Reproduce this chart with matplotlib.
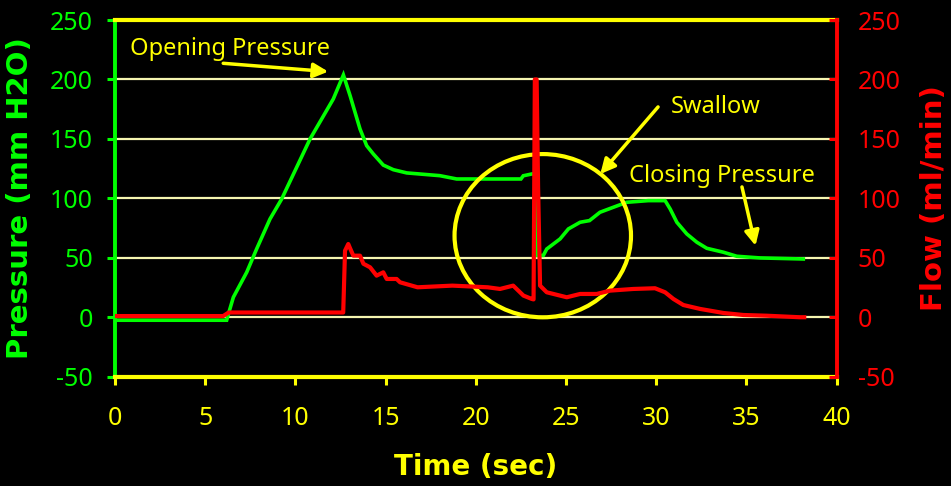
import matplotlib
matplotlib.use('Agg')
import matplotlib.pyplot as plt
from matplotlib.patches import Ellipse

plt.rcParams['axes.unicode_minus'] = False

# pressure trace (green, left axis)
p_time = [0, 6.19, 6.37, 6.56, 7.3, 7.85, 8.59, 9.24, 10.81, 12.1,
          12.66, 13.03, 13.58, 13.95, 14.32, 14.87, 15.43, 16.17, 18.0, 18.94,
          22.5, 22.63, 23.1, 23.3, 23.4, 23.74, 23.93, 24.67, 25.13, 25.78,
          26.3, 26.88, 27.62, 28.36, 29.56, 30.49, 30.77, 31.14, 31.69, 32.25,
          32.8, 33.72, 34.46, 35.75, 38.15]
p_val = [-2.5, -2.5, 7, 16.8, 37.8, 57.4, 82.6, 99.5, 149.9, 183.6,
         203.8, 186.4, 158.4, 144.3, 137.3, 128, 124.1, 121.4, 119.1, 116.3,
         116.3, 119, 120.5, 121, 52, 52, 57.4, 65.9, 74.3, 79.9,
         81.3, 88.3, 92.5, 96.7, 98.1, 98.1, 91.1, 79.9, 70.1, 63.1,
         58, 54.7, 51.3, 49.9, 49]

# flow trace (red, right axis)
f_time = [0, 6.0, 6.3, 12.65, 12.75, 12.93, 13.03, 13.21, 13.58, 13.77,
          14.14, 14.5, 14.87, 15.06, 15.61, 15.8, 16.77, 18.7, 20.66, 21.34,
          22.07, 22.64, 23.1, 23.2, 23.27, 23.37, 23.45, 23.56, 23.93, 25.04,
          25.78, 26.7, 27.44, 28.73, 29.93, 30.49, 30.95, 31.5, 32.43, 33.72,
          34.83, 36.12, 37.97, 38.2]
f_val = [1, 1, 4, 4, 56, 61.6, 58, 51.8, 51.8, 45,
         42, 35, 37.8, 32.2, 32.2, 29.4, 25.2, 26.6, 25.2, 23.8,
         26.6, 18.2, 15.4, 15, 200, 200, 110, 26.6, 21, 16.8,
         19.6, 19.6, 22.4, 23.8, 24.4, 21, 15.4, 10.3, 7, 3.6,
         1.9, 1.3, 0, 0]

x_ticks = list(range(0, 41, 5))
y_ticks = list(range(-50, 251, 50))

GREEN = '#00FF00'
RED = '#FF0000'
YELLOW = '#FFFF00'
GRID = '#F5F5B0'
TICK_FONT = 'Noto Sans'
LABEL_FONT = 'DejaVu Sans'

fig = plt.figure(figsize=(9.51, 4.86), dpi=100, facecolor='black')
ax = fig.add_axes([0.1209, 0.2249, 0.7589, 0.7339])
ax.set_facecolor('black')

ax.set_xlim(0, 40)
ax.set_ylim(-50, 250)
ax.set_xticks(x_ticks)
ax.set_yticks(y_ticks)
ax.yaxis.grid(True, color=GRID, lw=1.6)
ax.set_axisbelow(True)

ax.plot(p_time, p_val, color=GREEN, lw=2.6, solid_joinstyle='miter')

for s in ['top', 'bottom']:
    ax.spines[s].set_color(YELLOW)
    ax.spines[s].set_linewidth(3)
ax.spines['left'].set_color(GREEN)
ax.spines['left'].set_linewidth(2.8)
ax.spines['right'].set_visible(False)

ax.tick_params(axis='x', colors=YELLOW, length=6, width=2.2, pad=15)
ax.tick_params(axis='y', colors=GREEN, length=6, width=2.2, pad=10)
for lab in ax.get_xticklabels() + ax.get_yticklabels():
    lab.set_fontfamily(TICK_FONT)
    lab.set_fontsize(18)

ax.set_xlabel('Time (sec)', color=YELLOW, fontsize=20, fontweight='bold', family=LABEL_FONT)
ax.xaxis.set_label_coords(0.5, -0.215)
ax.set_ylabel('Pressure (mm H2O)', color=GREEN, fontsize=21, fontweight='bold', family=LABEL_FONT)
ax.yaxis.set_label_coords(-0.112, 0.5)

ax2 = ax.twinx()
ax2.patch.set_visible(False)
ax2.set_ylim(-50, 250)
ax2.set_yticks(y_ticks)
ax2.plot(f_time, f_val, color=RED, lw=3)
for s in ['top', 'bottom', 'left']:
    ax2.spines[s].set_visible(False)
ax2.spines['right'].set_color(RED)
ax2.spines['right'].set_linewidth(2.8)
ax2.tick_params(axis='y', colors=RED, length=6, width=2.2, direction='in', pad=15)
for lab in ax2.get_yticklabels():
    lab.set_fontfamily(TICK_FONT)
    lab.set_fontsize(18)
ax2.set_ylabel('Flow (ml/min)', color=RED, fontsize=21, fontweight='bold', family=LABEL_FONT)
ax2.yaxis.set_label_coords(1.115, 0.5)

# swallow marker circle
ax2.add_patch(Ellipse((23.71, 68.6), 9.78, 137.3, fill=False, edgecolor=YELLOW, lw=3))

arrow = dict(arrowstyle='-|>', color=YELLOW, lw=2.5, mutation_scale=22, shrinkA=0, shrinkB=0)
txt = dict(color=YELLOW, fontsize=17, family=TICK_FONT, va='center')

ax2.text(0.83, 225.6, 'Opening Pressure', ha='left', **txt)
ax2.annotate('', xy=(11.82, 206.6), xytext=(6.0, 213.6), arrowprops=arrow)

ax2.text(30.8, 177, 'Swallow', ha='left', **txt)
ax2.annotate('', xy=(26.9, 120.5), xytext=(30.1, 176.9), arrowprops=arrow)

ax2.text(28.5, 118.8, 'Closing Pressure', ha='left', **txt)
ax2.annotate('', xy=(35.5, 60.2), xytext=(34.75, 109.6), arrowprops=arrow)

fig.savefig('out.png', dpi=100, facecolor='black')
